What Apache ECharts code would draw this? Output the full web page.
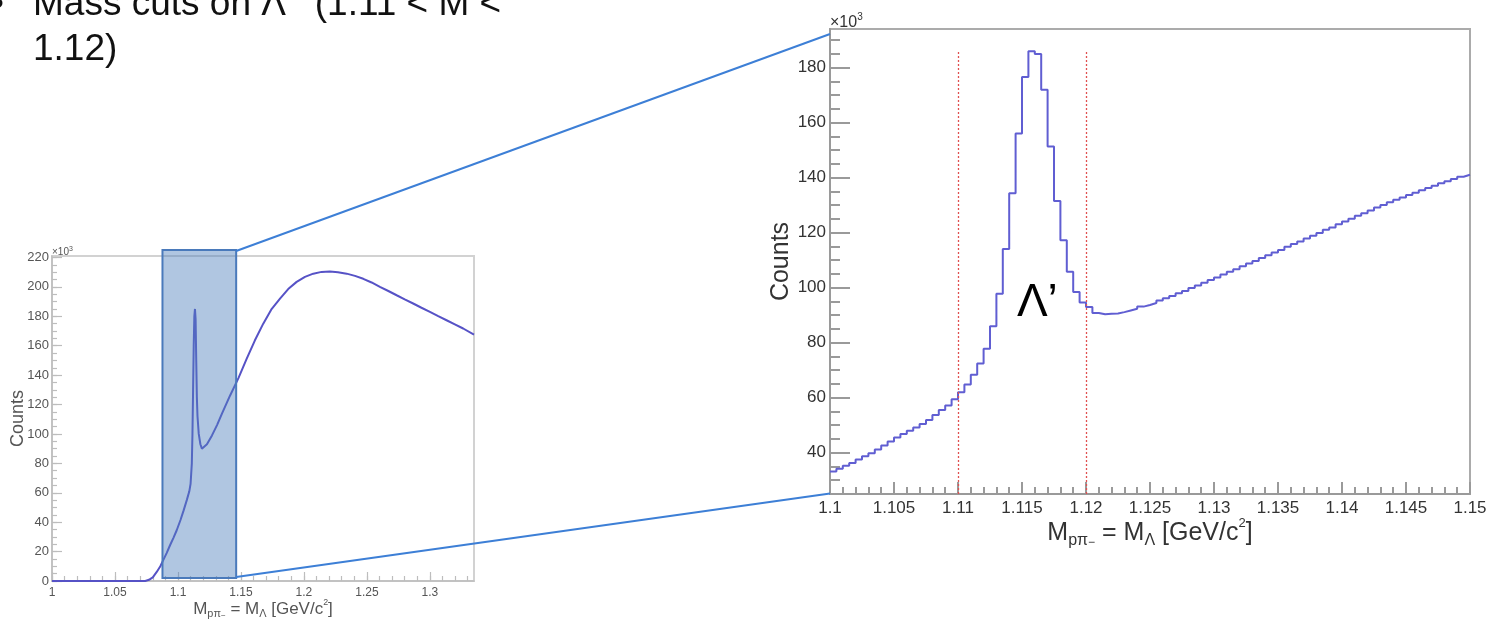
<!DOCTYPE html>
<html>
<head>
<meta charset="utf-8">
<title>Λ' invariant mass</title>
<script src="https://cdn.jsdelivr.net/npm/echarts@6/dist/echarts.min.js"></script>
<style>
  html, body { margin: 0; padding: 0; background: #ffffff; }
  #main { width: 1488px; height: 621px; }
</style>
</head>
<body>
<div id="main"></div>
<script>
// p pi- invariant mass, counts in units of 10^3

// Full spectrum (left panel): mass [GeV/c^2] and counts
const FULL_MASS = [
  1.000, 1.074, 1.077, 1.080, 1.083, 1.086, 1.0885, 1.091, 1.0937, 1.0965,
  1.099, 1.102, 1.1045, 1.107, 1.109, 1.110, 1.111, 1.1115, 1.112, 1.1125,
  1.113, 1.1135, 1.114, 1.1145, 1.115, 1.1155, 1.1165, 1.1178, 1.119, 1.120,
  1.123, 1.127, 1.131, 1.135, 1.1413, 1.148, 1.1545, 1.161, 1.1677, 1.174,
  1.181, 1.1875, 1.1942, 1.2008, 1.2074, 1.214, 1.2206, 1.227, 1.2339, 1.2405,
  1.2471, 1.2537, 1.2603, 1.267, 1.2736, 1.280, 1.2867, 1.2933, 1.300, 1.3066,
  1.3132, 1.3198, 1.3264, 1.335
];
const FULL_COUNTS = [
  0, 0, 0.8, 2.5, 6, 10, 14.5, 19, 24.3, 29.5,
  34.5, 41.5, 48, 55, 61, 66, 80, 100, 130, 160,
  180, 185, 178, 150, 125, 112, 100, 93, 90, 90.3,
  93, 99, 106, 114, 126, 138, 151, 163.5, 175, 184.5,
  192, 198.5, 203.4, 206.8, 209, 210.2, 210.5, 210, 209, 207.5,
  205.5, 203, 200, 197.2, 194.3, 191.5, 188.7, 185.8, 183, 180.1,
  177.3, 174.5, 171.7, 167.5
];

// Zoomed histogram (right panel): 100 bins of 0.0005 GeV/c^2 from 1.100
const ZOOM_LO = 1.1;
const ZOOM_BIN = 0.0005;
const ZOOM_COUNTS = [
  33.2, 34.2, 35.3, 36.3, 37.5, 38.7, 39.8, 41.2, 42.6, 44.1,
  45.5, 46.8, 48.0, 49.2, 50.4, 51.9, 53.7, 55.5, 57.2, 59.4,
  62.0, 64.8, 68.3, 72.4, 77.8, 86.0, 97.8, 114.0, 134.3, 156.0,
  176.6, 185.9, 184.9, 171.9, 151.3, 131.5, 117.2, 105.8, 98.4, 94.6,
  93.0, 90.8, 90.3, 90.5, 90.6, 91.1, 91.7, 92.3, 93.1, 93.7,
  94.4, 95.3, 96.1, 97.0, 98.0, 98.8, 99.9, 100.8, 101.8, 102.8,
  103.7, 104.8, 105.8, 106.7, 107.8, 108.8, 109.7, 110.8, 111.8, 112.8,
  113.7, 114.9, 115.9, 116.8, 117.9, 118.9, 119.9, 121.0, 121.9, 123.0,
  124.0, 125.0, 126.1, 127.0, 128.0, 129.1, 130.0, 131.0, 131.9, 132.8,
  133.7, 134.5, 135.4, 136.2, 137.0, 137.9, 138.7, 139.5, 140.3, 141.0
];

// Mass window of the selection
const CUTS = [1.11, 1.12];

// Region of the full spectrum that is magnified
const ZOOM_BOX = [1.0877, 1.1462];

// Tick labels
const FULL_X_TICKS = ['1', '1.05', '1.1', '1.15', '1.2', '1.25', '1.3'];
const FULL_Y_TICKS = ['0', '20', '40', '60', '80', '100', '120', '140', '160', '180', '200', '220'];
const ZOOM_X_TICKS = ['1.1', '1.105', '1.11', '1.115', '1.12', '1.125', '1.13', '1.135', '1.14', '1.145', '1.15'];
const ZOOM_Y_TICKS = ['40', '60', '80', '100', '120', '140', '160', '180'];

const FONT = '"Liberation Sans", Arial, Helvetica, sans-serif';

function steps(a, b, step) {
  const out = [];
  const n = Math.round((b - a) / step);
  for (let i = 0; i <= n; i++) out.push(+(a + i * step).toFixed(6));
  return out;
}
function labeler(list) {
  return v => {
    const hit = list.find(s => Math.abs(parseFloat(s) - v) < 1e-9);
    return hit === undefined ? '' : hit;
  };
}

const chart = echarts.init(document.getElementById('main'), null, { renderer: 'canvas' });

// histogram outline: one point per bin low edge, closed at the upper edge
const zoomData = ZOOM_COUNTS.map((c, i) => [+(ZOOM_LO + i * ZOOM_BIN).toFixed(5), c]);
zoomData.push([+(ZOOM_LO + ZOOM_COUNTS.length * ZOOM_BIN).toFixed(5), ZOOM_COUNTS[ZOOM_COUNTS.length - 1]]);
const zoomHi = ZOOM_LO + ZOOM_COUNTS.length * ZOOM_BIN;
const peak = Math.max(...ZOOM_COUNTS);

const fullData = FULL_MASS.map((m, i) => [m, FULL_COUNTS[i]]);

function massTitle(k, color) {
  return {
    a: { fontSize: 25 * k, fontFamily: FONT, color: color, lineHeight: 32 * k, verticalAlign: 'middle' },
    s: { fontSize: 16 * k, fontFamily: FONT, color: color, lineHeight: 16 * k, verticalAlign: 'bottom' },
    t: { fontSize: 12 * k, fontFamily: FONT, color: color, lineHeight: 27 * k, verticalAlign: 'bottom' },
    u: { fontSize: 13 * k, fontFamily: FONT, color: color, lineHeight: 22 * k, verticalAlign: 'top' }
  };
}
const MASS_NAME = '{a|M}{s|pπ}{t|−}{a| = M}{s|Λ}{a| [GeV/c}{u|2}{a|]}';

const smallAxis = '#bdbdbd';
const bigAxis = '#9a9a9a';

const option = {
  animation: false,
  backgroundColor: '#ffffff',
  grid: [
    { left: 52, top: 256, width: 422, height: 325, show: true, borderColor: '#d2d2d2', borderWidth: 2,
      containLabel: false, outerBoundsMode: 'none' },
    { left: 830, top: 29, width: 640, height: 465, show: true, borderColor: '#ababab', borderWidth: 2,
      containLabel: false, outerBoundsMode: 'none' }
  ],
  xAxis: [
    {
      gridIndex: 0, type: 'value', min: 1, max: 1.335, position: 'bottom',
      axisLine: { show: true, onZero: false, lineStyle: { color: smallAxis, width: 1.5 } },
      axisTick: { show: true, inside: true, length: 9, customValues: FULL_X_TICKS.map(Number), lineStyle: { color: smallAxis, width: 1.2 } },
      axisLabel: { show: true, customValues: FULL_X_TICKS.map(Number), formatter: labeler(FULL_X_TICKS), color: '#555', fontSize: 12, fontFamily: FONT, margin: 6 },
      splitLine: { show: false },
      name: MASS_NAME, nameLocation: 'middle', nameGap: 17, nameMoveOverlap: false,
      nameTextStyle: { rich: massTitle(0.68, '#555') }
    },
    {
      gridIndex: 0, type: 'value', min: 1, max: 1.335, position: 'bottom',
      axisLine: { show: false }, axisLabel: { show: false }, splitLine: { show: false },
      axisTick: { show: true, inside: true, length: 5, customValues: steps(1, 1.33, 0.01), lineStyle: { color: smallAxis, width: 1.2 } }
    },
    {
      gridIndex: 1, type: 'value', min: ZOOM_LO, max: zoomHi, position: 'bottom',
      axisLine: { show: true, onZero: false, lineStyle: { color: bigAxis, width: 2 } },
      axisTick: { show: true, inside: true, length: 12, customValues: ZOOM_X_TICKS.map(Number), lineStyle: { color: bigAxis, width: 2 } },
      axisLabel: { show: true, customValues: ZOOM_X_TICKS.map(Number), formatter: labeler(ZOOM_X_TICKS), color: '#333', fontSize: 17, fontFamily: FONT, margin: 6 },
      splitLine: { show: false },
      name: MASS_NAME, nameLocation: 'middle', nameGap: 23, nameMoveOverlap: false,
      nameTextStyle: { rich: massTitle(1, '#333') }
    },
    {
      gridIndex: 1, type: 'value', min: ZOOM_LO, max: zoomHi, position: 'bottom',
      axisLine: { show: false }, axisLabel: { show: false }, splitLine: { show: false },
      axisTick: { show: true, inside: true, length: 7, customValues: steps(1.1, 1.15, 0.001), lineStyle: { color: bigAxis, width: 2 } }
    }
  ],
  yAxis: [
    {
      gridIndex: 0, type: 'value', min: 0, max: 221, position: 'left',
      axisLine: { show: true, onZero: false, lineStyle: { color: smallAxis, width: 1.5 } },
      axisTick: { show: true, inside: true, length: 10, customValues: FULL_Y_TICKS.map(Number), lineStyle: { color: smallAxis, width: 1.2 } },
      axisLabel: { show: true, customValues: FULL_Y_TICKS.map(Number), formatter: labeler(FULL_Y_TICKS), color: '#555', fontSize: 13, fontFamily: FONT, margin: 3 },
      splitLine: { show: false },
      name: 'Counts', nameLocation: 'middle', nameGap: 25, nameMoveOverlap: false,
      nameTextStyle: { fontSize: 18, fontFamily: FONT, color: '#555' }
    },
    {
      gridIndex: 0, type: 'value', min: 0, max: 221, position: 'left',
      axisLine: { show: false }, axisLabel: { show: false }, splitLine: { show: false },
      axisTick: { show: true, inside: true, length: 5, customValues: steps(0, 220, 5), lineStyle: { color: smallAxis, width: 1.2 } },
      name: '×10{u|3}', nameLocation: 'end', nameGap: 3.5,
      nameTextStyle: { fontSize: 10, fontFamily: FONT, color: '#555', lineHeight: 13, align: 'left', verticalAlign: 'middle',
        rich: { u: { fontSize: 7, fontFamily: FONT, color: '#555', lineHeight: 6, verticalAlign: 'top' } } }
    },
    {
      gridIndex: 1, type: 'value', min: 25, max: 194, position: 'left',
      axisLine: { show: true, onZero: false, lineStyle: { color: bigAxis, width: 2 } },
      axisTick: { show: true, inside: true, length: 20, customValues: ZOOM_Y_TICKS.map(Number), lineStyle: { color: bigAxis, width: 2 } },
      axisLabel: { show: true, customValues: ZOOM_Y_TICKS.map(Number), formatter: labeler(ZOOM_Y_TICKS), color: '#333', fontSize: 17, fontFamily: FONT, margin: 4 },
      splitLine: { show: false },
      name: 'Counts', nameLocation: 'middle', nameGap: 36,
      nameTextStyle: { fontSize: 25, fontFamily: FONT, color: '#333' }
    },
    {
      gridIndex: 1, type: 'value', min: 25, max: 194, position: 'left',
      axisLine: { show: false }, axisLabel: { show: false }, splitLine: { show: false },
      axisTick: { show: true, inside: true, length: 10, customValues: steps(30, 190, 5), lineStyle: { color: bigAxis, width: 2 } },
      name: '×10{u|3}', nameLocation: 'end', nameGap: 6.5,
      nameTextStyle: { fontSize: 16, fontFamily: FONT, color: '#333', lineHeight: 20, align: 'left', verticalAlign: 'middle',
        rich: { u: { fontSize: 10, fontFamily: FONT, color: '#333', lineHeight: 9, verticalAlign: 'top' } } }
    }
  ],
  series: [
    {
      name: 'full', type: 'line', xAxisIndex: 0, yAxisIndex: 0,
      data: fullData, symbol: 'none', clip: true,
      lineStyle: { color: '#5652c6', width: 2 }, z: 3
    },
    {
      name: 'zoom', type: 'line', xAxisIndex: 2, yAxisIndex: 2,
      data: zoomData, step: 'end', symbol: 'none', clip: true,
      lineStyle: { color: '#605ed2', width: 2 }, z: 3,
      markLine: {
        silent: true, symbol: ['none', 'none'], label: { show: false },
        lineStyle: { color: '#e05050', width: 1.3, type: [2, 2] },
        data: CUTS.map(c => [{ coord: [c, 25] }, { coord: [c, peak] }])
      },
      markPoint: {
        silent: true, symbol: 'rect', symbolSize: 1,
        itemStyle: { color: 'rgba(0,0,0,0)' },
        label: { show: true, position: 'inside', formatter: 'Λ’', fontSize: 46, fontFamily: FONT, color: '#000' },
        data: [{ coord: [1.1162, 94.2] }]
      }
    }
  ]
};

chart.setOption(option);

// magnified region and the guide lines to the right panel
const boxL = chart.convertToPixel({ xAxisIndex: 0 }, ZOOM_BOX[0]);
const boxR = chart.convertToPixel({ xAxisIndex: 0 }, ZOOM_BOX[1]);
const panelL = chart.convertToPixel({ xAxisIndex: 2 }, ZOOM_LO);
const boxTop = 250, boxBottom = 578;

chart.setOption({
  graphic: [
    {
      type: 'rect', z: 50,
      shape: { x: boxL, y: boxTop, width: boxR - boxL, height: boxBottom - boxTop },
      style: { fill: 'rgba(79,129,189,0.45)', stroke: '#4a7abb', lineWidth: 2 }
    },
    {
      type: 'line', z: 50,
      shape: { x1: boxR, y1: boxTop + 1, x2: panelL, y2: 34 },
      style: { stroke: '#3d7fd6', lineWidth: 2 }
    },
    {
      type: 'line', z: 50,
      shape: { x1: boxR, y1: boxBottom - 1, x2: panelL, y2: 493.5 },
      style: { stroke: '#3d7fd6', lineWidth: 2 }
    },
    {
      type: 'text', z: 50, x: -9, y: 5,
      style: { text: '•', fontSize: 37, fontFamily: FONT, fill: '#111', align: 'left', verticalAlign: 'middle' }
    },
    {
      type: 'text', z: 50, x: 33, y: 5,
      style: { text: 'Mass cuts on Λ’  (1.11 < M <', fontSize: 37, fontFamily: FONT, fill: '#111', align: 'left', verticalAlign: 'middle' }
    },
    {
      type: 'text', z: 50, x: 33, y: 50,
      style: { text: '1.12)', fontSize: 37, fontFamily: FONT, fill: '#111', align: 'left', verticalAlign: 'middle' }
    }
  ]
});
</script>
</body>
</html>
